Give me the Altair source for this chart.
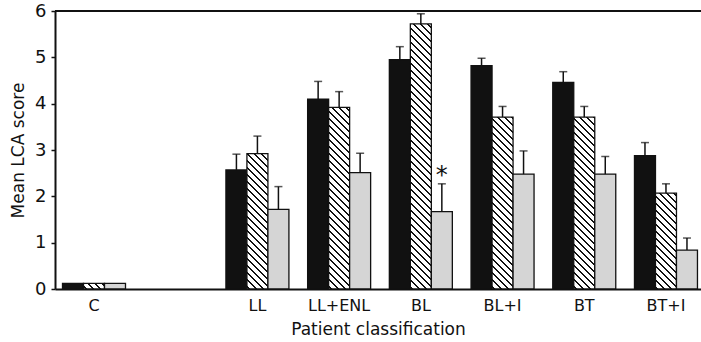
import altair as alt
import pandas as pd

# ---------------- data ----------------
categories = ["C", " ", "LL", "LL+ENL", "BL", "BL+I", "BT", "BT+I"]
groups = ["C", "LL", "LL+ENL", "BL", "BL+I", "BT", "BT+I"]
series = ["solid", "hatched", "dotted"]

solid_mean = [0.12, 2.57, 4.10, 4.95, 4.82, 4.46, 2.88]
solid_upper = [None, 2.91, 4.48, 5.23, 4.98, 4.69, 3.16]
hatched_mean = [0.12, 2.92, 3.92, 5.72, 3.71, 3.71, 2.07]
hatched_upper = [None, 3.30, 4.26, 5.94, 3.94, 3.94, 2.27]
dotted_mean = [0.12, 1.72, 2.51, 1.67, 2.48, 2.48, 0.84]
dotted_upper = [None, 2.21, 2.93, 2.27, 2.98, 2.86, 1.10]
significance = {("BL", "dotted"): "*"}

y_ticks = [0, 1, 2, 3, 4, 5, 6]
y_max = 6

# ---------------- layout ----------------
W, H = 646, 278
PI, PO = 0.229, 0.0675

rows = []
for s, means, ups in [("solid", solid_mean, solid_upper),
                      ("hatched", hatched_mean, hatched_upper),
                      ("dotted", dotted_mean, dotted_upper)]:
    for g, m, u in zip(groups, means, ups):
        rows.append({"cat": g, "series": s, "value": m, "upper": u,
                     "mark": significance.get((g, s), "")})
df = pd.DataFrame(rows)


def hatch(value):
    step = W / (len(categories) - PI + 2 * PO)
    w = step * (1 - PI) / 3
    h = max(value * H / y_max, 0.5)
    L = w + h
    k = L / (w * w + h * h)
    sp, tw = 7.0, 2.0
    stops = [{"offset": 0, "color": "white"}]
    d = 1.5
    while d < L:
        a = d / L
        b = min((d + tw) / L, 1)
        stops += [{"offset": a, "color": "white"}, {"offset": a, "color": "#111111"},
                  {"offset": b, "color": "#111111"}, {"offset": b, "color": "white"}]
        d += sp
    return {"gradient": "linear", "x1": 0, "y1": 1, "x2": w * k, "y2": 1 - h * k,
            "stops": stops}


conds = []
for g, m in zip(groups, hatched_mean):
    conds.append({"test": f"datum.series === 'hatched' && datum.cat === '{g}'",
                  "value": hatch(m)})
conds.append({"test": "datum.series === 'dotted'", "value": "#d5d5d5"})

xscale = alt.Scale(domain=categories, paddingInner=PI, paddingOuter=PO, align=0.68)
yscale = alt.Scale(domain=[0, y_max])

base = alt.Chart(df).encode(
    x=alt.X("cat:N", scale=xscale, title="Patient classification",
            axis=alt.Axis(labelAngle=0, ticks=False, labelFontSize=16, labelPadding=8,
                          domainWidth=2, domainColor="#111", titleFontSize=17,
                          titleFontWeight="normal", titlePadding=8)),
    xOffset=alt.XOffset("series:N", sort=series,
                        scale=alt.Scale(domain=series, paddingInner=0, paddingOuter=0)),
)

bars = base.mark_bar(stroke="#111111", strokeWidth=1.3).encode(
    y=alt.Y("value:Q", scale=yscale, title="Mean LCA score",
            axis=alt.Axis(values=y_ticks, format="d", grid=False, labelFontSize=18,
                          tickSize=4, tickWidth=1.5, tickColor="#111", domainWidth=2,
                          domainColor="#111", labelPadding=5, titleFontSize=17,
                          titleFontWeight="normal", titlePadding=7)),
    fill=alt.value("#111111", condition=conds),
)

err = base.transform_filter("isValid(datum.upper)").mark_rule(
    color="#111111", strokeWidth=1.5).encode(y="value:Q", y2="upper:Q")

caps = base.transform_filter("isValid(datum.upper)").mark_tick(
    color="#111111", thickness=1.5, size=8).encode(y="upper:Q")

star = base.transform_filter("datum.mark !== ''").mark_text(
    fontSize=24, baseline="alphabetic", dy=-1, color="#111111").encode(
    y="upper:Q", text="mark:N")

top = alt.Chart(pd.DataFrame({"top": [y_max]})).mark_rule(
    color="#111111", strokeWidth=2).encode(y=alt.Y("top:Q", scale=yscale))

chart = alt.layer(bars, err, caps, star, top).properties(
    width=W, height=H,
    padding={"left": 55, "top": 11, "right": 0, "bottom": 53},
    autosize=alt.AutoSizeParams(type="none"),
).configure(font="DejaVu Sans").configure_axis(
    labelColor="#111", titleColor="#111", labelFont="DejaVu Sans", titleFont="DejaVu Sans"
).configure_view(stroke=None)

chart.save("out.html", embed_options={"renderer": "svg", "actions": False})
